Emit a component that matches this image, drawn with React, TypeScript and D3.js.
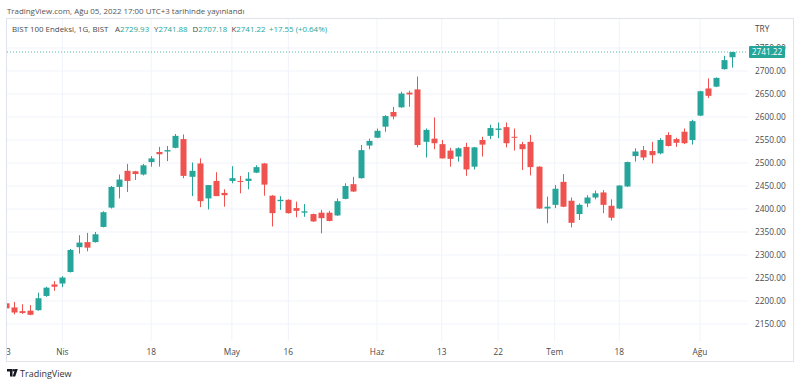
import React from 'react'
import * as d3 from 'd3'

// BIST 100 daily candles, 2022
const dates = [
  '03-23', '03-24', '03-25', '03-28', '03-29', '03-30', '03-31',
  '04-01', '04-04', '04-05', '04-06', '04-07', '04-08', '04-11', '04-12', '04-13', '04-14', '04-15',
  '04-18', '04-19', '04-20', '04-21', '04-22', '04-25', '04-26', '04-27', '04-28', '04-29',
  '05-05', '05-06', '05-09', '05-10', '05-11', '05-12', '05-13', '05-16', '05-17', '05-18', '05-20',
  '05-23', '05-24', '05-25', '05-26', '05-27', '05-30', '05-31',
  '06-01', '06-02', '06-03', '06-06', '06-07', '06-08', '06-09', '06-10', '06-13', '06-14', '06-15',
  '06-16', '06-17', '06-20', '06-21', '06-22', '06-23', '06-24', '06-27', '06-28', '06-29', '06-30',
  '07-01', '07-04', '07-05', '07-06', '07-07', '07-08', '07-13', '07-14', '07-18', '07-19', '07-20',
  '07-21', '07-22', '07-25', '07-26', '07-27', '07-28', '07-29',
  '08-01', '08-02', '08-03', '08-04', '08-05',
]

const opens = [
  2195, 2186, 2178, 2179, 2180, 2211, 2236, 2238, 2263, 2317, 2328, 2328, 2361, 2403, 2448, 2483,
  2482, 2475, 2502, 2524, 2525, 2533, 2552, 2470, 2499, 2423, 2461, 2435, 2461, 2461, 2461, 2479,
  2499, 2429, 2417, 2420, 2402, 2392, 2389, 2392, 2392, 2386, 2422, 2454, 2467, 2538, 2555, 2579,
  2611, 2621, 2653, 2660, 2546, 2553, 2541, 2527, 2514, 2535, 2492, 2550, 2559, 2572, 2578, 2557,
  2541, 2546, 2492, 2401, 2409, 2459, 2418, 2389, 2412, 2425, 2436, 2407, 2401, 2449, 2515, 2528,
  2526, 2521, 2561, 2552, 2568, 2550, 2603, 2662, 2666, 2704, 2729.93,
]
const highs = [
  2196, 2198, 2193, 2191, 2218, 2231, 2243, 2254, 2313, 2343, 2348, 2350, 2395, 2450, 2475, 2498,
  2483, 2498, 2515, 2535, 2537, 2563, 2562, 2501, 2510, 2452, 2480, 2443, 2493, 2472, 2480, 2495,
  2500, 2430, 2428, 2421, 2416, 2411, 2390, 2398, 2396, 2423, 2456, 2470, 2539, 2553, 2575, 2604,
  2622, 2655, 2657, 2688, 2575, 2599, 2550, 2533, 2534, 2544, 2535, 2557, 2583, 2588, 2588, 2575,
  2546, 2561, 2493, 2427, 2452, 2476, 2425, 2412, 2430, 2440, 2441, 2421, 2452, 2503, 2532, 2537,
  2546, 2554, 2567, 2555, 2575, 2594, 2657, 2684, 2686, 2733, 2741.88,
]
const lows = [
  2182, 2171, 2172, 2169, 2179, 2209, 2222, 2230, 2262, 2303, 2308, 2327, 2360, 2401, 2423, 2437,
  2463, 2473, 2492, 2492, 2504, 2532, 2467, 2428, 2404, 2399, 2428, 2405, 2456, 2434, 2443, 2478,
  2429, 2362, 2398, 2390, 2382, 2383, 2372, 2347, 2373, 2385, 2421, 2437, 2466, 2530, 2554, 2568,
  2595, 2620, 2622, 2534, 2512, 2530, 2510, 2492, 2503, 2472, 2486, 2514, 2552, 2554, 2534, 2527,
  2485, 2473, 2400, 2369, 2402, 2404, 2360, 2376, 2404, 2421, 2391, 2375, 2400, 2448, 2503, 2506,
  2499, 2519, 2536, 2535, 2541, 2540, 2602, 2641, 2665, 2703, 2707.18,
]
const closes = [
  2184, 2175, 2174, 2170, 2206, 2229, 2231, 2251, 2311, 2327, 2316, 2345, 2393, 2448, 2464, 2461,
  2476, 2495, 2510, 2519, 2528, 2559, 2472, 2483, 2417, 2452, 2428, 2430, 2467, 2459, 2466, 2491,
  2453, 2391, 2420, 2391, 2396, 2395, 2373, 2380, 2374, 2417, 2450, 2438, 2528, 2548, 2570, 2602,
  2601, 2651, 2649, 2539, 2572, 2543, 2510, 2509, 2532, 2486, 2534, 2540, 2576, 2575, 2543, 2555,
  2530, 2491, 2401, 2405, 2444, 2405, 2370, 2409, 2425, 2434, 2409, 2381, 2451, 2502, 2525, 2512,
  2517, 2550, 2537, 2544, 2543, 2591, 2656, 2646, 2685, 2723.67, 2741.22,
]

const xTickDates = ['03-23', '04-01', '04-18', '05-05', '05-16', '06-01', '06-13', '06-22', '07-01', '07-18', '08-01']
const xTickLabels = ['23', 'Nis', '18', 'May', '16', 'Haz', '13', '22', 'Tem', '18', 'Ağu']
const yTicks = [2150, 2200, 2250, 2300, 2350, 2400, 2450, 2500, 2550, 2600, 2650, 2700, 2750]

const UP = '#26a69a'
const DOWN = '#ef5350'
const TEXT = '#4a4a4a'
const GRID = '#f0f3fa'
const FONT = '"Open Sans", sans-serif'

export default function App() {
  const width = 800
  const height = 385
  const plot = { left: 7, right: 748, top: 19, bottom: 341 }

  const x = d3.scalePoint<string>().domain(dates).range([5.9, 732.2])
  const y = d3.scaleLinear().domain([2150, 2700]).range([324, 71])
  const bodyW = 6
  const fmt = d3.format('.2f')

  const n = closes.length
  const last = closes[n - 1]
  const change = last - closes[n - 2]
  const pct = (change / closes[n - 2]) * 100
  const lastY = y(last)

  return (
    <svg
      width={width}
      height={height}
      style={{ position: 'absolute', left: 0, top: 0, background: '#fff' }}
      fontFamily={FONT}
    >
      <defs>
        <clipPath id="plotClip">
          <rect x={plot.left} y={plot.top} width={plot.right - plot.left} height={plot.bottom - plot.top} />
        </clipPath>
        <clipPath id="xAxisClip">
          <rect x={plot.left} y={plot.bottom} width={plot.right - plot.left} height={20} />
        </clipPath>
      </defs>

      <text x={7} y={14} fontSize={7.9} fill="#555">
        TradingView.com, Ağu 05, 2022 17:00 UTC+3 tarihinde yayınlandı
      </text>

      <rect x={6.5} y={18.5} width={787} height={343} fill="none" stroke="#e0e3eb" />

      {/* grid */}
      <g clipPath="url(#plotClip)">
        {yTicks.map((t) => (
          <line key={t} x1={plot.left} x2={plot.right} y1={y(t)} y2={y(t)} stroke={GRID} />
        ))}
        {xTickDates.map((d) => (
          <line key={d} x1={x(d)} x2={x(d)} y1={plot.top} y2={plot.bottom} stroke={GRID} />
        ))}
      </g>

      {/* candles */}
      <g clipPath="url(#plotClip)">
        {dates.map((d, i) => {
          const up = closes[i] >= opens[i]
          const color = up ? UP : DOWN
          const cx = Math.round(x(d)!) + 0.5
          const top = y(Math.max(opens[i], closes[i]))
          const bot = y(Math.min(opens[i], closes[i]))
          return (
            <g key={d}>
              <line x1={cx} x2={cx} y1={y(highs[i])} y2={y(lows[i])} stroke={color} />
              <rect x={cx - bodyW / 2} y={top} width={bodyW} height={Math.max(1, bot - top)} fill={color} />
            </g>
          )
        })}
        <line x1={plot.left} x2={plot.right} y1={lastY} y2={lastY} stroke={UP} strokeOpacity={0.8} strokeDasharray="1 2" />
      </g>

      {/* x axis labels */}
      <g clipPath="url(#xAxisClip)" fontSize={8.3} fill={TEXT} textAnchor="middle">
        {xTickDates.map((d, i) => (
          <text key={d} x={x(d)} y={355}>
            {xTickLabels[i]}
          </text>
        ))}
      </g>

      {/* y axis labels */}
      <g fontSize={8.3} fill={TEXT}>
        <text x={755} y={32}>TRY</text>
        {yTicks.map((t) => (
          <text key={t} x={755} y={y(t) + 3}>
            {fmt(t)}
          </text>
        ))}
        <rect x={749} y={lastY - 6} width={36} height={12} rx={1} fill={UP} />
        <text x={767} y={lastY + 3} fill="#fff" textAnchor="middle">
          {fmt(last)}
        </text>
      </g>

      {/* legend row */}
      <text y={32} fontSize={7.9} fill={TEXT}>
        <tspan x={12}>BIST 100 Endeksi, 1G, BIST</tspan>
        <tspan x={115}>A</tspan>
        <tspan fill={UP}>{fmt(opens[n - 1])}</tspan>
        <tspan x={154}>Y</tspan>
        <tspan fill={UP}>{fmt(highs[n - 1])}</tspan>
        <tspan x={192.5}>D</tspan>
        <tspan fill={UP}>{fmt(lows[n - 1])}</tspan>
        <tspan x={231.5}>K</tspan>
        <tspan fill={UP}>{fmt(last)}</tspan>
        <tspan x={269} fill={UP}>
          {`+${fmt(change)} (+${fmt(pct)}%)`}
        </tspan>
      </text>

      {/* footer */}
      <g fill="#131722">
        <path d="M7,369 h5.5 v7.5 h-2.5 v-5 h-3 z" />
        <circle cx={13.8} cy={370.3} r={1.3} />
        <path d="M15.2,369 h2.6 l-2.6,7.5 h-2.6 z" />
      </g>
      <text x={20} y={376.5} fontSize={9} fill="#333">
        TradingView
      </text>
    </svg>
  )
}
